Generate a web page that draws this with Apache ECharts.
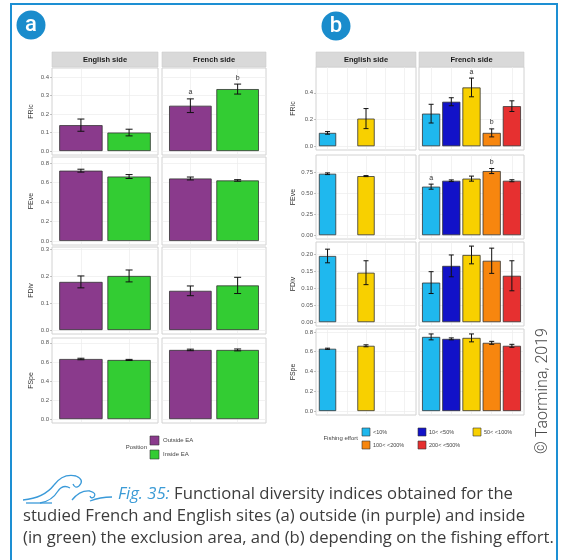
<!DOCTYPE html>
<html><head><meta charset="utf-8">
<script src="https://cdn.jsdelivr.net/npm/echarts@6/dist/echarts.min.js"></script>
<style>html,body{margin:0;padding:0;background:#fff}#c{width:562px;height:560px}</style>
</head><body><div id="c"></div>
<script>
// ---------- DATA ----------
const indices = ['FRic', 'FEve', 'FDiv', 'FSpe'];
const sides = ['English side', 'French side'];
const positions = ['Outside EA', 'Inside EA'];
const effortClasses = ['<10%', '10< <50%', '50< <100%', '100< <200%', '200< <500%'];

// Panel a (rows = FRic, FEve, FDiv, FSpe ; columns = Outside EA, Inside EA)
const aEnglishMean = [[0.140, 0.100], [0.720, 0.660], [0.178, 0.200], [0.630, 0.620]];
const aEnglishErr  = [[0.033, 0.018], [0.015, 0.020], [0.022, 0.022], [0.008, 0.006]];
const aFrenchMean  = [[0.245, 0.335], [0.640, 0.620], [0.145, 0.165], [0.725, 0.725]];
const aFrenchErr   = [[0.037, 0.027], [0.015, 0.008], [0.018, 0.030], [0.008, 0.010]];
const aEnglishLetters = [['', ''], ['', ''], ['', ''], ['', '']];
const aFrenchLetters  = [['a', 'b'], ['', ''], ['', ''], ['', '']];

// Panel b (rows = FRic, FEve, FDiv, FSpe ; columns = fishing effort classes)
const bEnglishMean = [[0.100, null, 0.207, null, null], [0.728, null, 0.700, null, null], [0.194, null, 0.145, null, null], [0.630, null, 0.660, null, null]];
const bEnglishErr  = [[0.010, null, 0.075, null, null], [0.010, null, 0.006, null, null], [0.020, null, 0.035, null, null], [0.006, null, 0.010, null, null]];
const bFrenchMean  = [[0.244, 0.333, 0.440, 0.100, 0.300], [0.575, 0.645, 0.670, 0.760, 0.645], [0.116, 0.165, 0.197, 0.180, 0.136], [0.750, 0.730, 0.740, 0.690, 0.660]];
const bFrenchErr   = [[0.070, 0.030, 0.070, 0.030, 0.040], [0.030, 0.010, 0.030, 0.030, 0.012], [0.032, 0.032, 0.026, 0.037, 0.044], [0.030, 0.010, 0.040, 0.015, 0.015]];
const bEnglishLetters = [['', '', '', '', ''], ['', '', '', '', ''], ['', '', '', '', ''], ['', '', '', '', '']];
const bFrenchLetters  = [['', '', 'a', 'b', ''], ['a', '', '', 'b', ''], ['', '', '', '', ''], ['', '', '', '', '']];

// Tick labels
const ticksA = [[0, 0.1, 0.2, 0.3, 0.4], [0, 0.2, 0.4, 0.6, 0.8], [0, 0.1, 0.2, 0.3], [0, 0.2, 0.4, 0.6, 0.8]];
const ticksB = [[0, 0.2, 0.4], [0, 0.25, 0.5, 0.75], [0, 0.05, 0.1, 0.15, 0.2], [0, 0.2, 0.4, 0.6, 0.8]];
const decA = [1, 1, 1, 1];
const decB = [1, 2, 2, 1];

// ---------- STYLE / LAYOUT ----------
const colorsA = ['#8a3a8c', '#33cc33'];
const colorsB = ['#1fb8ee', '#1212c8', '#f8d000', '#f7860f', '#e63030'];
const FONT = 'Liberation Sans, Arial, sans-serif';
const layoutA = {
  cols: [[52, 158], [162, 266]],
  rows: [[68, 155], [157, 245], [247, 334], [338, 423]],
  yMin: [-0.0214, -0.041, -0.0146, -0.0405],
  yMax: [0.449, 0.86, 0.307, 0.85],
  strip: [52, 15], nameGap: 17, cap: 3.5
};
const layoutB = {
  cols: [[316, 416], [419, 524]],
  rows: [[67, 150], [155, 239], [242, 326], [329, 415]],
  yMin: [-0.028, -0.045, -0.0112, -0.04],
  yMax: [0.593, 0.95, 0.235, 0.83],
  strip: [52, 15], nameGap: 19, cap: 2.5
};

const grids = [], xAxes = [], yAxes = [], series = [], graphics = [];

function addFacet(L, ticks, dec, row, col, means, errs, letters, colors) {
  const gi = grids.length;
  const [x0, x1] = L.cols[col], [y0, y1] = L.rows[row];
  const n = means.length;
  grids.push({ left: x0, top: y0, width: x1 - x0, height: y1 - y0, show: true,
    borderColor: '#d2d2d2', borderWidth: 1, backgroundColor: '#ffffff' });
  xAxes.push({ type: 'value', gridIndex: gi, min: 0.4, max: n + 0.6, show: false });
  yAxes.push({
    type: 'value', gridIndex: gi, min: L.yMin[row], max: L.yMax[row],
    axisLine: { show: false }, splitLine: { show: false },
    axisTick: { show: col === 0, customValues: ticks, length: 2, lineStyle: { color: '#999', width: 0.6 } },
    axisLabel: { show: col === 0, customValues: ticks, formatter: v => Number(v).toFixed(dec),
      fontSize: 6, color: '#555', margin: 3, fontFamily: FONT },
    name: col === 0 ? indices[row] : '', nameLocation: 'middle', nameGap: L.nameGap, nameRotate: 90,
    nameTextStyle: { fontSize: 7, color: '#333', fontFamily: FONT }
  });
  const barW = 0.9 * (x1 - x0) / (n + 0.2);
  // faint grid lines (drawn beneath the bars)
  series.push({ type: 'scatter', xAxisIndex: gi, yAxisIndex: gi, data: [], z: 1, silent: true, animation: false,
    markLine: { silent: true, z: 1, symbol: ['none', 'none'], label: { show: false }, animation: false,
      lineStyle: { color: '#ededed', width: 0.7, type: 'solid' },
      data: ticks.map(t => ({ yAxis: t })).concat(means.map((_, i) => ({ xAxis: i + 1 }))) } });
  const items = [], lets = [];
  means.forEach((m, i) => { if (m !== null) { items.push([i + 1, m, errs[i], i]); lets.push(letters[i]); } });
  series.push({ type: 'bar', xAxisIndex: gi, yAxisIndex: gi, barWidth: barW, z: 2, animation: false,
    itemStyle: { borderColor: '#333333', borderWidth: 0.8 },
    data: items.map(it => ({ value: [it[0], it[1]], itemStyle: { color: colors[it[3]] } })) });
  series.push({ type: 'custom', xAxisIndex: gi, yAxisIndex: gi, z: 3, animation: false, clip: false,
    data: items.map(it => [it[0], it[1], it[2]]), encode: { x: 0, y: 1 },
    renderItem: (params, api) => {
      const x = api.value(0), m = api.value(1), e = api.value(2);
      const pT = api.coord([x, m + e]), pB = api.coord([x, m - e]);
      const hw = L.cap, st = { stroke: '#111111', lineWidth: 1 };
      const ch = [
        { type: 'line', shape: { x1: pT[0], y1: pT[1], x2: pB[0], y2: pB[1] }, style: st },
        { type: 'line', shape: { x1: pT[0] - hw, y1: pT[1], x2: pT[0] + hw, y2: pT[1] }, style: st },
        { type: 'line', shape: { x1: pB[0] - hw, y1: pB[1], x2: pB[0] + hw, y2: pB[1] }, style: st }
      ];
      const lt = lets[params.dataIndex];
      if (lt) ch.push({ type: 'text', style: { text: lt, x: pT[0], y: pT[1] - 3, textAlign: 'center', align: 'center',
        textVerticalAlign: 'bottom', verticalAlign: 'bottom', fontSize: 7, fill: '#333', fontFamily: FONT } });
      return { type: 'group', children: ch };
    } });
}

for (let r = 0; r < 4; r++) {
  addFacet(layoutA, ticksA[r], decA[r], r, 0, aEnglishMean[r], aEnglishErr[r], aEnglishLetters[r], colorsA);
  addFacet(layoutA, ticksA[r], decA[r], r, 1, aFrenchMean[r], aFrenchErr[r], aFrenchLetters[r], colorsA);
  addFacet(layoutB, ticksB[r], decB[r], r, 0, bEnglishMean[r], bEnglishErr[r], bEnglishLetters[r], colorsB);
  addFacet(layoutB, ticksB[r], decB[r], r, 1, bFrenchMean[r], bFrenchErr[r], bFrenchLetters[r], colorsB);
}

// strips
[layoutA, layoutB].forEach(L => {
  L.cols.forEach((c, i) => {
    graphics.push({ type: 'rect', shape: { x: c[0], y: L.strip[0], width: c[1] - c[0], height: L.strip[1] },
      style: { fill: '#d9d9d9', stroke: '#cfcfcf', lineWidth: 0.6 } });
    graphics.push({ type: 'text', x: (c[0] + c[1]) / 2, y: L.strip[0] + L.strip[1] / 2,
      style: { text: sides[i], textAlign: 'center', align: 'center', textVerticalAlign: 'middle', verticalAlign: 'middle',
        font: 'bold 7.5px ' + FONT, fill: '#1a1a1a' } });
  });
});

// outer frame and badges
graphics.push({ type: 'rect', shape: { x: 11, y: 4, width: 546, height: 620 }, style: { fill: 'none', stroke: '#1d8fd3', lineWidth: 2 }, z: 10 });
[['a', 31, 25], ['b', 336, 26]].forEach(([t, cx, cy]) => {
  graphics.push({ type: 'circle', shape: { cx: cx, cy: cy, r: 14.5 }, style: { fill: '#1a8ccc' } });
  graphics.push({ type: 'text', x: cx, y: cy, style: { text: t, textAlign: 'center', align: 'center', textVerticalAlign: 'middle', verticalAlign: 'middle',
    font: '500 22px Roboto, ' + FONT, fill: '#ffffff' } });
});

// legend a
graphics.push({ type: 'text', x: 147, y: 447, style: { text: 'Position', textAlign: 'right', align: 'right', textVerticalAlign: 'middle', verticalAlign: 'middle', font: '6px ' + FONT, fill: '#444' } });
positions.forEach((p, i) => {
  const y = 436 + i * 14;
  graphics.push({ type: 'rect', shape: { x: 150, y: y, width: 9, height: 9 }, style: { fill: colorsA[i], stroke: '#333', lineWidth: 0.6 } });
  graphics.push({ type: 'text', x: 163, y: y + 4.5, style: { text: p, textVerticalAlign: 'middle', verticalAlign: 'middle', font: '6px ' + FONT, fill: '#444' } });
});
// legend b
graphics.push({ type: 'text', x: 358, y: 438, style: { text: 'Fishing effort', textAlign: 'right', align: 'right', textVerticalAlign: 'middle', verticalAlign: 'middle', font: '6px ' + FONT, fill: '#444' } });
const legBPos = [[362, 428], [418, 428], [473, 428], [362, 441], [418, 441]];
effortClasses.forEach((p, i) => {
  const [x, y] = legBPos[i];
  graphics.push({ type: 'rect', shape: { x: x, y: y, width: 8, height: 8 }, style: { fill: colorsB[i], stroke: '#333', lineWidth: 0.6 } });
  graphics.push({ type: 'text', x: x + 11, y: y + 4, style: { text: p, textVerticalAlign: 'middle', verticalAlign: 'middle', font: '5.5px ' + FONT, fill: '#444' } });
});

// copyright
graphics.push({ type: 'text', x: 543, y: 391, rotation: Math.PI / 2,
  style: { text: '\u00A9 Taormina, 2019', textAlign: 'center', align: 'center', textVerticalAlign: 'middle', verticalAlign: 'middle',
    font: '300 16px Roboto, ' + FONT, fill: '#4a4a4a' } });

// wave logo (quadratic curve segments: x1,y1,cpx,cpy,x2,y2)
const waveSegs = [
  [23, 500, 44, 498, 54, 485], [54, 485, 63, 473, 76, 476], [76, 476, 85, 480, 79, 486], [79, 486, 75, 489, 73, 484],
  [40, 503, 52, 501, 58, 491], [58, 491, 63, 484, 70, 488],
  [72, 500, 80, 490, 90, 491], [90, 491, 97, 493, 94, 497], [94, 497, 91, 499, 90, 496],
  [90, 501, 100, 497, 112, 497], [26, 503, 39, 503, 52, 503]
];
waveSegs.forEach(s => graphics.push({ type: 'bezierCurve',
  shape: { x1: s[0], y1: s[1], cpx1: s[2], cpy1: s[3], x2: s[4], y2: s[5] },
  style: { fill: 'none', stroke: '#3a9ad9', lineWidth: 1.3 } }));

// caption
const capFont = '16px "Open Sans", Roboto, sans-serif';
const capScale = 1.04;
graphics.push({ type: 'text', x: 118, y: 494, scaleX: capScale, style: {
  text: '{f|Fig. 35:} Functional diversity indices obtained for the',
  textVerticalAlign: 'middle', verticalAlign: 'middle', font: capFont, fill: '#3c3c3c',
  rich: { f: { fontStyle: 'italic', fill: '#3b9bd6', font: 'italic ' + capFont } } } });
graphics.push({ type: 'text', x: 23, y: 516, scaleX: capScale, style: { text: 'studied French and English sites (a) outside (in purple) and inside',
  textVerticalAlign: 'middle', verticalAlign: 'middle', font: capFont, fill: '#3c3c3c' } });
graphics.push({ type: 'text', x: 23, y: 538, scaleX: capScale, style: { text: '(in green) the exclusion area, and (b) depending on the fishing effort.',
  textVerticalAlign: 'middle', verticalAlign: 'middle', font: capFont, fill: '#3c3c3c' } });

const chart = echarts.init(document.getElementById('c'), null, { renderer: 'canvas' });
chart.setOption({
  animation: false,
  backgroundColor: '#ffffff',
  textStyle: { fontFamily: FONT },
  grid: grids, xAxis: xAxes, yAxis: yAxes, series: series,
  graphic: { elements: graphics }
});
</script></body></html>
